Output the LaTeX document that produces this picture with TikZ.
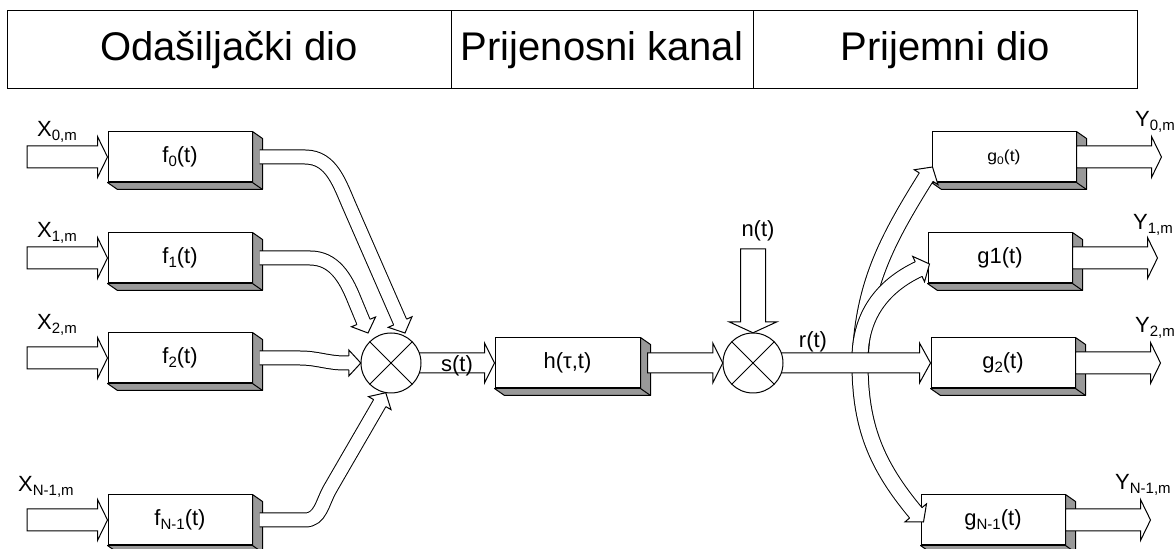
\documentclass[tikz,border=0pt]{standalone}
\usepackage{fontspec}
\setmainfont{Liberation Sans}
\usetikzlibrary{calc}
\tikzset{
  ln/.style={line width=1pt},
  blk/.style={draw, fill=white, line width=1pt, minimum width=144pt, minimum height=50pt, inner sep=0pt, font=\fontsize{22}{22}\selectfont},
  sideface/.style={draw, fill=black!40, line width=1pt, line join=round},
  blockarrow/.style={draw, fill=white, line width=1pt},
  fband/.style={line width=1pt, double=white, double distance=13pt},
  gband/.style={line width=1pt, double=white, double distance=15pt},
  multpos/.style={circle, minimum size=60pt, inner sep=0pt},
  lbl/.style={inner sep=0pt, font=\fontsize{22}{22}\selectfont},
  hdr/.style={inner sep=0pt, font=\fontsize{40}{40}\selectfont},
}
\newcommand\subs[1]{\raisebox{-4pt}{\fontsize{15}{15}\selectfont #1}}
\newcommand\threed[1]{%
  \draw[sideface] (#1.north east) -- ++(10,-7) -- ($(#1.south east)+(10,-7)$) -- ($(#1.south west)+(10,-7)$) -- (#1.south west) -- (#1.south east) -- cycle;
  \draw[ln] (#1.south east) -- ++(10,-7);}
% horizontal block arrow: start, tip, shaft half width, head half width, head length
\newcommand\harrow[5]{%
  \draw[blockarrow] let \p1=#1, \p2=#2 in
   (\x1,\y2+#3pt) -- (\x2-#5pt,\y2+#3pt) -- (\x2-#5pt,\y2+#4pt) -- (\p2) -- (\x2-#5pt,\y2-#4pt) -- (\x2-#5pt,\y2-#3pt) -- (\x1,\y2-#3pt) -- cycle;}
% vertical (downward) block arrow
\newcommand\varrow[5]{%
  \draw[blockarrow] let \p1=#1, \p2=#2 in
   (\x2-#3pt,\y1) -- (\x2-#3pt,\y2+#5pt) -- (\x2-#4pt,\y2+#5pt) -- (\p2) -- (\x2+#4pt,\y2+#5pt) -- (\x2+#3pt,\y2+#5pt) -- (\x2+#3pt,\y1) -- cycle;}
% hollow head for a curved band: tip, angle, shaft half width, head half width
\newcommand\bhead[4]{%
  \begin{scope}[shift={#1},rotate=#2]
    \fill[white] (0,0) -- (-12,#4) -- (-12,-#4) -- cycle;
    \draw[ln] (-12,#3) -- (-12,#4) -- (0,0) -- (-12,-#4) -- (-12,-#3);
  \end{scope}}
\begin{document}
\begin{tikzpicture}[x=1pt,y=1pt]
\useasboundingbox (0,0) rectangle (1176,549);
% header table
\draw[ln] (7,460) rectangle (1137,538);
\draw[ln] (451,460) -- (451,538);
\draw[ln] (753,460) -- (753,538);
\node[hdr] (hd1) at (229,499) {Odašiljački dio};
\node[hdr] (hd2) at (602,499) {Prijenosni kanal};
\node[hdr] (hd3) at (945,499) {Prijemni dio};
% blocks
\node[blk] (f0) at (180,392) {f\subs{0}(t)};
\node[blk] (f1) at (180,291) {f\subs{1}(t)};
\node[blk] (f2) at (180,191) {f\subs{2}(t)};
\node[blk] (fN) at (180,29) {f\subs{N-1}(t)};
\node[blk, minimum width=145pt] (h) at (567.5,186) {h(τ,t)};
\node[blk] (g0) at (1004,392) {\raisebox{-3pt}{\scalebox{1.1}[1]{\fontsize{16}{16}\selectfont g\raisebox{-3pt}{\fontsize{11}{11}\selectfont 0}(t)}}};
\node[blk] (g1) at (1000,291) {g1(t)};
\node[blk] (g2) at (1003,186) {g\subs{2}(t)};
\node[blk] (gN) at (993,29) {g\subs{N-1}(t)};
\foreach \n in {f0,f1,f2,fN,h,g0,g1,g2,gN} {\threed{\n}}
% multiplier positions
\node[multpos] (c1) at (391,186) {};
\node[multpos] (c2) at (753,186) {};
% inputs
\coordinate (x0) at (27,392);
\coordinate (x1) at (27,291);
\coordinate (x2) at (27,191);
\coordinate (xN) at (27,29);
\harrow{(x0)}{(f0.west)}{11}{20.5}{10}
\harrow{(x1)}{(f1.west)}{11}{20.5}{10}
\harrow{(x2)}{(f2.west)}{11}{20.5}{10}
\harrow{(xN)}{(fN.west)}{11}{20.5}{10}
\node[lbl, anchor=base west] (lx0) at (37,412) {X\subs{0,m}};
\node[lbl, anchor=base west] (lx1) at (37,311) {X\subs{1,m}};
\node[lbl, anchor=base west] (lx2) at (37,219) {X\subs{2,m}};
\node[lbl, anchor=base west] (lxN) at (18,57) {X\subs{N-1,m}};
% transmitter bands
\draw[fband] ($(f0.east)+(7,0)$) -- (305,392) to[out=0,in=114] (350.7,340) -- ($(c1.center)+(14,30)+(114:11)$);
\bhead{($(c1.center)+(14,30)$)}{-66}{7}{13}
\draw[fband] ($(f1.east)+(7,0)$) -- (310,291) to[out=0,in=112] (354,250) -- ($(c1.center)+(-23,30)+(112:11)$);
\bhead{($(c1.center)+(-23,30)$)}{-68}{7}{13}
\draw[fband] ($(f2.east)+(7,0)$) -- (300,191) to[out=0,in=180] (345,186) -- ($(c1.west)+(-11,0)$);
\bhead{(c1.west)}{0}{7}{13}
\draw[fband] ($(fN.east)+(7,0)$) -- (305,29) to[out=0,in=240] (330,60) -- ($(c1.260)+(240:11)$);
\bhead{(c1.260)}{60}{7}{13}
% channel
\harrow{($(c1.east)+(-5,0)$)}{(h.west)}{10}{20}{10}
\node[lbl, anchor=base] (slab) at (457,177) {s(t)};
\harrow{($(h.east)+(7,0)$)}{(c2.west)}{10}{20}{10}
\coordinate (nsrc) at (754,300);
\varrow{(nsrc)}{(c2.north)}{12.5}{24}{11}
\node[lbl, anchor=base] (nlab) at (758,312) {n(t)};
% receiver bands
\coordinate (split) at (860,186);
\draw[gband] (split) to[out=270,in=130] ($(gN.west)+(3,-2)+(130:11)$);
\bhead{($(gN.west)+(3,-2)$)}{-50}{8}{14}
\draw[gband] (split) to[out=88,in=238] ($(g0.west)+(1,-10)+(238:11)$);
\bhead{($(g0.west)+(1,-10)$)}{58}{8}{14}
\draw[gband] ($(split)+(0,4)$) to[out=90,in=205] ($(g1.west)+(2,-6)+(205:11)$);
\bhead{($(g1.west)+(2,-6)$)}{25}{8}{14}
\harrow{($(c2.east)+(-5,0)$)}{(g2.west)}{10}{20}{11}
\node[lbl, anchor=base] (rlab) at (813,201) {r(t)};
% multipliers drawn on top
\foreach \c in {c1,c2} {
  \draw[ln, fill=white] (\c.center) circle[radius=30];
  \draw[ln] (\c.north east) -- (\c.south west) (\c.north west) -- (\c.south east);
}
% outputs
\harrow{(g0.east)}{($(g0.east)+(85,0)$)}{11}{20.5}{10}
\harrow{(g1.east)}{($(g1.east)+(85,0)$)}{11}{20.5}{10}
\harrow{(g2.east)}{($(g2.east)+(85,0)$)}{11}{20.5}{10}
\harrow{(gN.east)}{($(gN.east)+(85,0)$)}{11}{20.5}{10}
\node[lbl, anchor=base west] (ly0) at (1135,422) {Y\subs{0,m}};
\node[lbl, anchor=base west] (ly1) at (1133,319) {Y\subs{1,m}};
\node[lbl, anchor=base west] (ly2) at (1135,216) {Y\subs{2,m}};
\node[lbl, anchor=base west] (lyN) at (1115,59) {Y\subs{N-1,m}};
\end{tikzpicture}
\end{document}
